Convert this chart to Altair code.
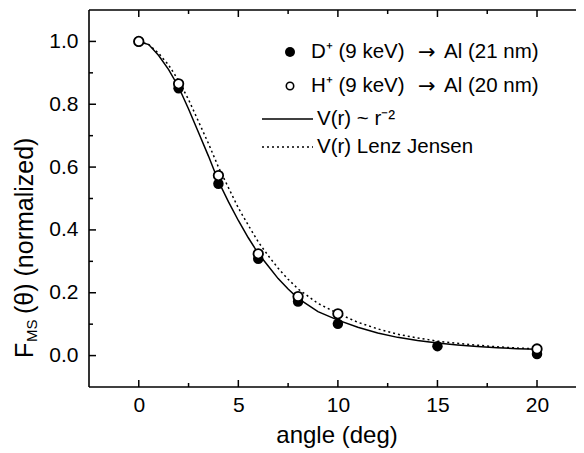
import altair as alt
import pandas as pd

FONT = "Liberation Sans"

# ---- data ----
angle_D = [0, 2, 4, 6, 8, 10, 15, 20]
F_D = [1.0, 0.851, 0.547, 0.308, 0.172, 0.101, 0.030, 0.005]
angle_H = [0, 2, 4, 6, 8, 10, 20]
F_H = [1.0, 0.865, 0.573, 0.324, 0.188, 0.133, 0.021]

curve_angle = [0, 0.5, 1, 1.5, 2, 2.5, 3, 3.5, 4, 4.5, 5, 5.5, 6, 6.5, 7, 7.5, 8,
               9, 10, 11, 12, 13, 14, 15, 16, 17, 18, 19, 20]
F_r2 = [1.0, 0.99, 0.955, 0.91, 0.855, 0.785, 0.71, 0.635, 0.555, 0.49, 0.43, 0.375,
        0.325, 0.285, 0.245, 0.212, 0.182, 0.14, 0.113, 0.09, 0.072, 0.058, 0.048,
        0.04, 0.034, 0.029, 0.025, 0.022, 0.02]
F_LJ = [1.0, 0.99, 0.962, 0.925, 0.875, 0.815, 0.745, 0.675, 0.60, 0.535, 0.47, 0.415,
        0.362, 0.318, 0.278, 0.243, 0.212, 0.166, 0.134, 0.106, 0.085, 0.068, 0.056,
        0.046, 0.039, 0.033, 0.028, 0.024, 0.021]

x_major = [0, 5, 10, 15, 20]
x_minor = [2.5, 7.5, 12.5, 17.5]
y_major = [0.0, 0.2, 0.4, 0.6, 0.8, 1.0]
y_minor = [0.1, 0.3, 0.5, 0.7, 0.9]

legend_rows = [("D\u207A (9 keV)", "Al (21 nm)"),
               ("H\u207A (9 keV)", "Al (20 nm)")]
legend_lines = ["V(r) ~ r\u207B\u00B2", "V(r) Lenz Jensen"]

W, H = 495, 377
xs = alt.Scale(domain=[-2.5, 22.36], nice=False, zero=False)
ys = alt.Scale(domain=[-0.1, 1.1], nice=False, zero=False)
one = pd.DataFrame({"a": [0]})

x_axis = alt.Axis(values=x_major, format="d", domain=False, ticks=False, tickSize=0,
                  grid=False, labelFont=FONT, labelFontSize=21, labelColor="black",
                  labelPadding=7, title="angle (deg)", titleFont=FONT,
                  titleFontSize=24, titleFontWeight="normal", titleColor="black",
                  titlePadding=8)
y_axis = alt.Axis(values=y_major, format=".1f", domain=False, ticks=False, tickSize=0,
                  grid=False, labelFont=FONT, labelFontSize=21, labelColor="black",
                  labelPadding=11, title=None)


def X(f):
    return alt.X(f, type="quantitative", scale=xs, axis=x_axis)


def Y(f):
    return alt.Y(f, type="quantitative", scale=ys, axis=y_axis)


curves = pd.DataFrame({"angle": curve_angle, "r2": F_r2, "lj": F_LJ})
line_r2 = alt.Chart(curves).mark_line(color="black", strokeWidth=1.5).encode(
    x=X("angle"), y=Y("r2"))
line_lj = alt.Chart(curves).mark_line(color="black", strokeWidth=1.5,
                                      strokeDash=[2, 3]).encode(x=X("angle"), y=Y("lj"))

dD = pd.DataFrame({"angle": angle_D, "F": F_D})
dH = pd.DataFrame({"angle": angle_H, "F": F_H})
pts_D = alt.Chart(dD).mark_point(filled=True, color="black", size=110, opacity=1).encode(
    x=X("angle"), y=Y("F"))
pts_H = alt.Chart(dH).mark_point(filled=True, fill="white", stroke="black",
                                 strokeWidth=1.8, size=90, opacity=1).encode(
    x=X("angle"), y=Y("F"))

layers = [line_r2, line_lj, pts_D, pts_H]

# frame lines (left, top, bottom)
frame_kw = dict(color="black", strokeWidth=1.6)
layers.append(alt.Chart(one).mark_rule(**frame_kw).encode(
    x=alt.value(0), y=alt.value(0), y2=alt.value(H)))
layers.append(alt.Chart(one).mark_rule(**frame_kw).encode(
    y=alt.value(0), x=alt.value(0), x2=alt.value(W)))
layers.append(alt.Chart(one).mark_rule(**frame_kw).encode(
    y=alt.value(H), x=alt.value(0), x2=alt.value(W)))


# inward ticks
def yticks(vals, a, b):
    return alt.Chart(pd.DataFrame({"v": vals})).mark_rule(color="black", strokeWidth=1.5).encode(
        y=Y("v"), x=alt.value(a), x2=alt.value(b))


def xticks(vals, a, b):
    return alt.Chart(pd.DataFrame({"v": vals})).mark_rule(color="black", strokeWidth=1.5).encode(
        x=X("v"), y=alt.value(a), y2=alt.value(b))


layers += [yticks(y_major, 0, 7), yticks(y_minor, 0, 4),
           yticks(y_major, W - 7, W), yticks(y_minor, W - 4, W),
           xticks(x_major, H - 7, H), xticks(x_minor, H - 4, H),
           xticks(x_major, 0, 7), xticks(x_minor, 0, 4)]

# y-axis title with subscript, drawn rotated
tkw = dict(font=FONT, color="black", angle=270, align="left", baseline="middle")
layers.append(alt.Chart(one).mark_text(fontSize=25, **tkw).encode(
    x=alt.value(-64), y=alt.value(348), text=alt.value("F")))
layers.append(alt.Chart(one).mark_text(fontSize=15, **tkw).encode(
    x=alt.value(-57), y=alt.value(332), text=alt.value("MS")))
layers.append(alt.Chart(one).mark_text(fontSize=25, **tkw).encode(
    x=alt.value(-64), y=alt.value(304), text=alt.value("(\u03B8) (normalized)")))

# legend
lk = dict(font=FONT, fontSize=20.5, color="black", align="left", baseline="middle")
layers.append(alt.Chart(one).mark_point(filled=True, color="black", size=100, opacity=1).encode(
    x=alt.value(201), y=alt.value(42)))
layers.append(alt.Chart(one).mark_point(filled=True, fill="white", stroke="black",
                                        strokeWidth=1.6, size=55, opacity=1).encode(
    x=alt.value(201), y=alt.value(76)))
layers.append(alt.Chart(one).mark_rule(color="black", strokeWidth=1.5).encode(
    x=alt.value(173), x2=alt.value(224), y=alt.value(109)))
layers.append(alt.Chart(one).mark_rule(color="black", strokeWidth=1.5, strokeDash=[2, 3]).encode(
    x=alt.value(173), x2=alt.value(224), y=alt.value(137)))
for (left, right), ly in zip(legend_rows, [42, 76]):
    layers.append(alt.Chart(one).mark_text(**lk).encode(
        x=alt.value(222), y=alt.value(ly), text=alt.value(left)))
    layers.append(alt.Chart(one).mark_text(font="DejaVu Sans", fontSize=21, color="black",
                                           align="left", baseline="middle").encode(
        x=alt.value(329), y=alt.value(ly + 1), text=alt.value("\u2192")))
    layers.append(alt.Chart(one).mark_text(**lk).encode(
        x=alt.value(355), y=alt.value(ly), text=alt.value(right)))
for lab, ly in zip(legend_lines, [109, 137]):
    layers.append(alt.Chart(one).mark_text(**lk).encode(
        x=alt.value(228), y=alt.value(ly), text=alt.value(lab)))

chart = alt.layer(*layers).properties(
    width=W, height=H,
    autosize=alt.AutoSizeParams(type="none"),
    padding={"left": 81, "top": 2, "right": -8, "bottom": 64},
).configure_view(stroke=None)

chart.save("out.html", embed_options={"renderer": "svg", "actions": False})
